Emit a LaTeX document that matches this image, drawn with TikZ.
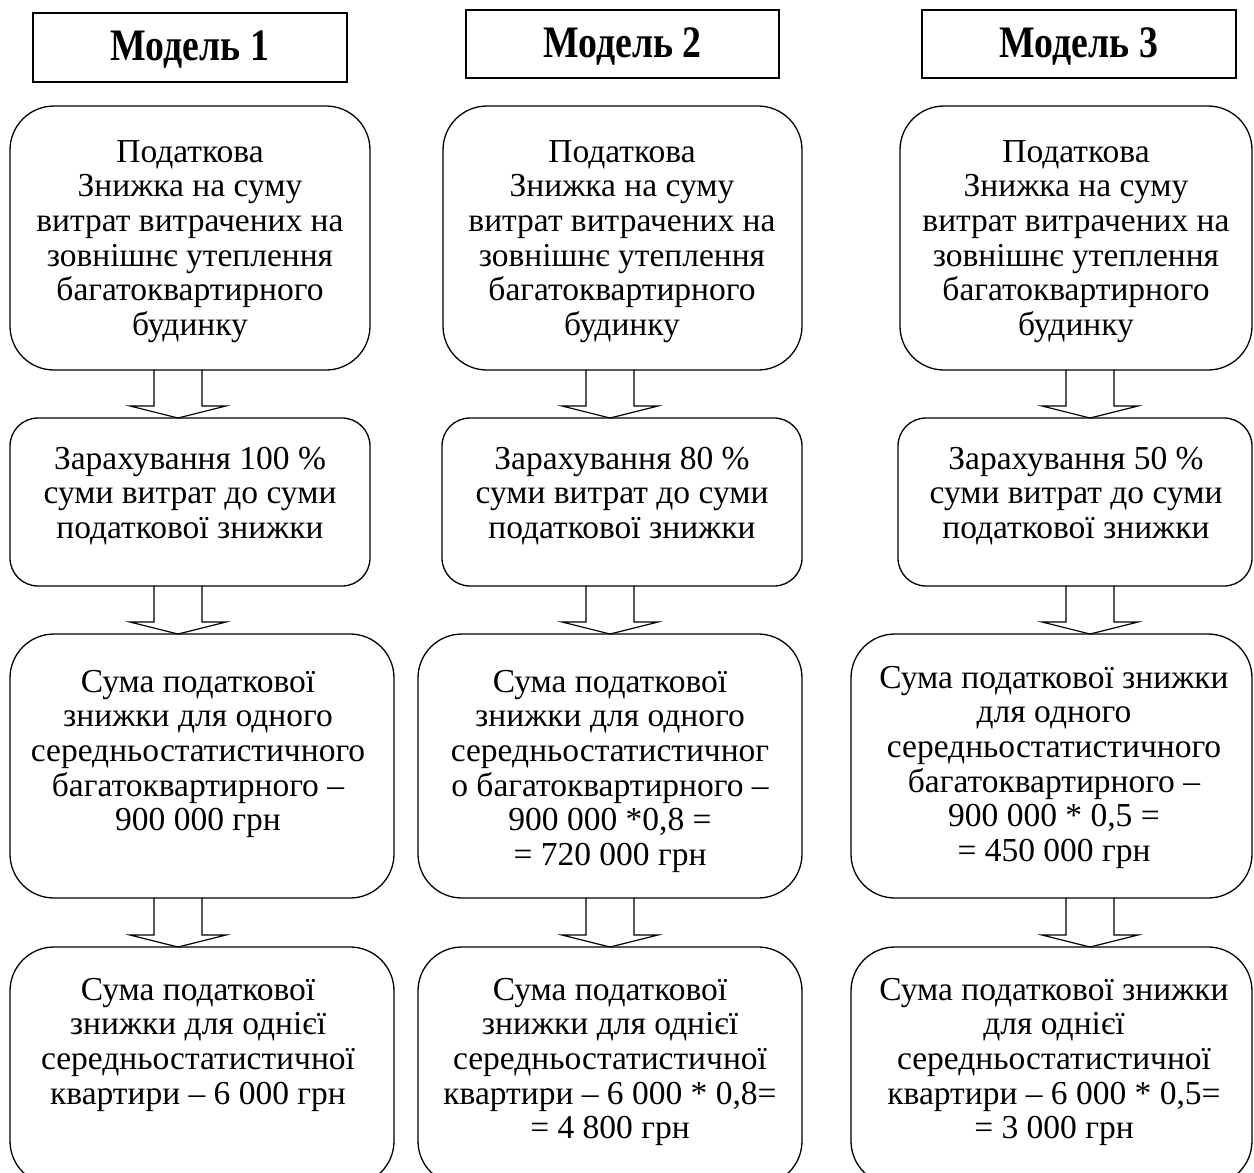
\documentclass[tikz,border=0pt]{standalone}
\usepackage{fontspec}
\setmainfont{Liberation Serif}
\newfontface\hdrfont{Liberation Serif Bold}[FakeStretch=0.84]
\usetikzlibrary{calc}
\tikzset{
  box/.style={draw, line width=1.3pt, inner sep=0pt, outer sep=0pt},
  hbox/.style={draw, line width=1.3pt, inner sep=0pt, outer sep=0pt, text height=30pt, text depth=4pt, font=\hdrfont\fontsize{45}{50}\selectfont},
  txt/.style={inner sep=0pt, align=center, anchor=north, font=\fontsize{33.5}{34.6}\selectfont},
  arrowline/.style={draw, line width=1.2pt, line join=miter},
}
\newcommand\blkarrow[3]{%
  \draw[arrowline] let \p1=(#1.south), \p2=(#2.north) in
    (#3pt-24pt,\y1) -- (#3pt-24pt,\y2+12pt) -- (#3pt-48pt,\y2+12pt) -- (#3pt,\y2)
    -- (#3pt+48pt,\y2+12pt) -- (#3pt+24pt,\y2+12pt) -- (#3pt+24pt,\y1);}
\begin{document}
\begin{tikzpicture}[x=1pt,y=-1pt]
\useasboundingbox (0,0) rectangle (1254,1173);
\clip (0,0) rectangle (1254,1173);
% headers
\node[hbox, minimum width=314pt, minimum height=69pt] (h1) at (190,47.5) {Модель 1};
\node[hbox, minimum width=313pt, minimum height=68pt] (h2) at (622.5,44) {Модель 2};
\node[hbox, minimum width=314pt, minimum height=68pt] (h3) at (1079,44) {Модель 3};
% column 1
\node[box, rounded corners=44pt, minimum width=360pt, minimum height=264pt] (b11) at (190,238) {};
\node[box, rounded corners=28pt, minimum width=360pt, minimum height=168pt] (b12) at (190,502) {};
\node[box, rounded corners=44pt, minimum width=384pt, minimum height=264pt] (b13) at (202,766) {};
\node[box, rounded corners=44pt, minimum width=384pt, minimum height=238pt] (b14) at (202,1066) {};
% column 2
\node[box, rounded corners=44pt, minimum width=359pt, minimum height=264pt] (b21) at (622.5,238) {};
\node[box, rounded corners=28pt, minimum width=360pt, minimum height=168pt] (b22) at (622,502) {};
\node[box, rounded corners=44pt, minimum width=384pt, minimum height=264pt] (b23) at (610,766) {};
\node[box, rounded corners=44pt, minimum width=384pt, minimum height=238pt] (b24) at (610,1066) {};
% column 3
\node[box, rounded corners=44pt, minimum width=352pt, minimum height=264pt] (b31) at (1076,238) {};
\node[box, rounded corners=28pt, minimum width=354pt, minimum height=168pt] (b32) at (1075,502) {};
\node[box, rounded corners=44pt, minimum width=401pt, minimum height=264pt] (b33) at (1051.5,766) {};
\node[box, rounded corners=44pt, minimum width=401pt, minimum height=238pt] (b34) at (1051.5,1066) {};
% texts column 1
\node[txt] (t11) at (190,137.8) {\strut Податкова\\Знижка на суму\\витрат витрачених на\\зовнішнє утеплення\\багатоквартирного\\будинку};
\node[txt] (t12) at (190,444.8) {\strut Зарахування 100 \%\\суми витрат до суми\\податкової знижки};
\node[txt] (t13) at (198,667.8) {\strut Сума податкової\\знижки для одного\\середньостатистичного\\багатоквартирного –\\900 000 грн};
\node[txt] (t14) at (198,975.8) {\strut Сума податкової\\знижки для однієї\\середньостатистичної\\квартири – 6 000 грн};
% texts column 2
\node[txt] (t21) at (622,137.8) {\strut Податкова\\Знижка на суму\\витрат витрачених на\\зовнішнє утеплення\\багатоквартирного\\будинку};
\node[txt] (t22) at (622,444.8) {\strut Зарахування 80 \%\\суми витрат до суми\\податкової знижки};
\node[txt] (t23) at (610,667.8) {\strut Сума податкової\\знижки для одного\\середньостатистичног\\о багатоквартирного –\\900 000 *0,8 =\\= 720 000 грн};
\node[txt] (t24) at (610,975.8) {\strut Сума податкової\\знижки для однієї\\середньостатистичної\\квартири – 6 000 * 0,8=\\= 4 800 грн};
% texts column 3
\node[txt] (t31) at (1076,137.8) {\strut Податкова\\Знижка на суму\\витрат витрачених на\\зовнішнє утеплення\\багатоквартирного\\будинку};
\node[txt] (t32) at (1076,444.8) {\strut Зарахування 50 \%\\суми витрат до суми\\податкової знижки};
\node[txt] (t33) at (1054,663.8) {\strut Сума податкової знижки\\для одного\\середньостатистичного\\багатоквартирного –\\900 000 * 0,5 =\\= 450 000 грн};
\node[txt] (t34) at (1054,975.8) {\strut Сума податкової знижки\\для однієї\\середньостатистичної\\квартири – 6 000 * 0,5=\\= 3 000 грн};
% block arrows
\blkarrow{b11}{b12}{178}
\blkarrow{b12}{b13}{178}
\blkarrow{b13}{b14}{178}
\blkarrow{b21}{b22}{610}
\blkarrow{b22}{b23}{610}
\blkarrow{b23}{b24}{610}
\blkarrow{b31}{b32}{1090}
\blkarrow{b32}{b33}{1090}
\blkarrow{b33}{b34}{1090}
\end{tikzpicture}
\end{document}
